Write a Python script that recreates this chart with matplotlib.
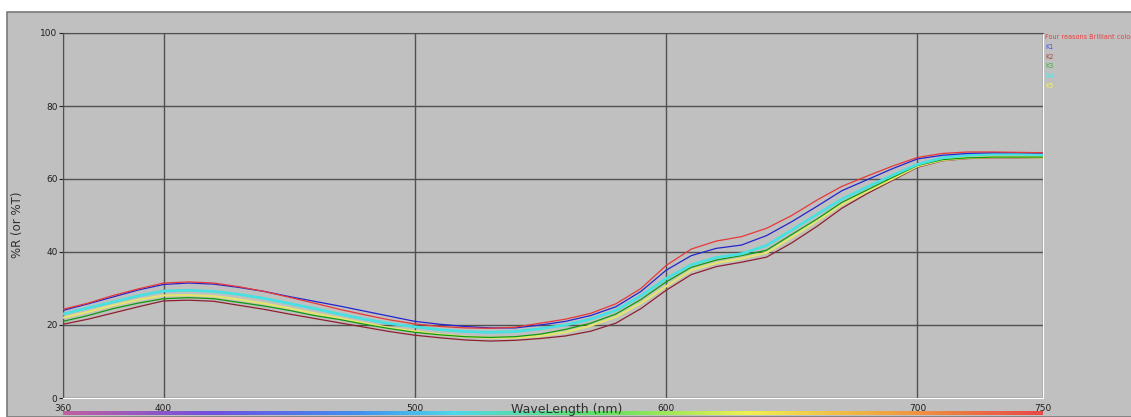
import matplotlib.pyplot as plt
import numpy as np
from matplotlib.patches import Rectangle
from matplotlib.colors import LinearSegmentedColormap

# Reflectance curves, 360-750 nm in 10 nm steps
wavelength = np.arange(360, 751, 10)

four_reasons = [24.3, 26.0, 28.1, 29.9, 31.5, 31.8, 31.5, 30.5, 29.2, 27.6,
                26.0, 24.3, 22.8, 21.4, 20.3, 19.6, 19.2, 19.1, 19.4, 20.5,
                21.6, 23.2, 25.8, 30.0, 36.3, 40.8, 43.0, 44.2, 46.5, 50.0,
                54.2, 58.0, 60.8, 63.5, 65.9, 67.0, 67.4, 67.4, 67.3, 67.2]
k1 = [24.0, 25.8, 27.7, 29.6, 31.1, 31.5, 31.2, 30.3, 29.2, 27.8,
      26.5, 25.2, 23.8, 22.4, 21.0, 20.2, 19.6, 19.2, 19.2, 20.0,
      21.0, 22.6, 25.0, 29.2, 35.0, 39.0, 41.0, 41.9, 44.5, 48.3,
      52.5, 56.8, 59.8, 62.8, 65.5, 66.5, 67.0, 67.2, 67.2, 67.1]
k2 = [20.2, 21.6, 23.3, 25.0, 26.6, 26.8, 26.5, 25.4, 24.3, 23.0,
      21.8, 20.6, 19.4, 18.2, 17.2, 16.5, 15.9, 15.6, 15.8, 16.3,
      17.0, 18.3, 20.5, 24.5, 29.5, 33.8, 36.0, 37.2, 38.6, 42.5,
      47.0, 52.0, 56.0, 59.6, 63.2, 65.0, 65.6, 65.8, 65.8, 65.8]
k3 = [21.0, 22.6, 24.5, 26.0, 27.2, 27.5, 27.2, 26.2, 25.2, 24.0,
      22.6, 21.5, 20.2, 19.0, 18.0, 17.3, 16.8, 16.6, 16.8, 17.5,
      18.8, 20.5, 23.0, 27.0, 31.8, 35.8, 37.8, 39.0, 40.5, 44.8,
      49.0, 53.6, 57.0, 60.4, 63.7, 65.3, 65.8, 66.0, 66.0, 66.0]
k4 = [23.0, 24.7, 26.3, 28.0, 29.3, 29.5, 29.2, 28.4, 27.3, 25.9,
      24.5, 23.0, 21.6, 20.4, 19.5, 18.7, 18.2, 18.0, 18.2, 19.0,
      20.0, 21.6, 24.0, 28.0, 32.7, 36.5, 38.5, 39.5, 41.8, 46.0,
      50.3, 54.5, 57.8, 61.0, 64.0, 65.8, 66.5, 66.8, 66.8, 66.7]
k5 = [22.0, 23.6, 25.4, 26.9, 28.1, 28.2, 27.9, 27.0, 25.9, 24.6,
      23.2, 21.9, 20.5, 19.2, 18.3, 17.4, 16.8, 16.5, 16.5, 17.0,
      18.0, 19.8, 22.2, 26.0, 30.6, 35.0, 37.0, 38.2, 39.8, 44.0,
      48.5, 53.0, 56.6, 60.0, 63.5, 65.2, 65.8, 66.0, 66.0, 65.9]

names = ['Four reasons Brilliant color', 'K1', 'K2', 'K3', 'K4', 'K5']
series = [four_reasons, k1, k2, k3, k4, k5]
line_colors = ['#e83838', '#2424d0', '#8c2030', '#109a10', '#48e0e0', '#e4e470']
text_colors = ['#f03c3c', '#5050f0', '#a04848', '#40b040', '#40f0f0', '#f0f060']
widths = [0.9, 0.9, 0.9, 0.9, 2.0, 1.6]

x_ticks = [360, 400, 500, 600, 700, 750]
y_ticks = [0, 20, 40, 60, 80, 100]

W, H = 1131, 417
fig = plt.figure(figsize=(W / 100, H / 100), dpi=100)
fig.patch.set_facecolor('white')

# grey panel behind everything
fig.patches.append(Rectangle((7 / W, 0), 1, 1 - 12 / H, transform=fig.transFigure,
                             facecolor='#c0c0c0', edgecolor='#7a7a7a', lw=1.2, zorder=-10))

ax = fig.add_axes([63 / W, 1 - 398 / H, 980 / W, 365 / H])
ax.set_facecolor('#c0c0c0')

# draw the lower lines first so the top pair sits above
for idx in [2, 5, 3, 4, 1, 0]:
    ax.plot(wavelength, series[idx], color=line_colors[idx], lw=widths[idx], zorder=3)

ax.set_xlim(360, 750)
ax.set_ylim(0, 100)
ax.set_xticks(x_ticks)
ax.set_yticks(y_ticks)
ax.tick_params(axis='both', labelsize=6.5, colors='#202020', length=3, width=0.8, pad=1)
ax.tick_params(axis='x', length=0, pad=4)
ax.grid(True, color='#505050', lw=1.0, zorder=1)

for side in ['left', 'top']:
    ax.spines[side].set_color('#505050')
for side in ['right', 'bottom']:
    ax.spines[side].set_color('white')

fig.text(18 / W, 1 - 225 / H, '%R (or %T)', rotation=90, ha='center', va='center',
         fontsize=8.5, color='#303030')

# spectrum strip under the axis
spec = LinearSegmentedColormap.from_list('spec', [
    (0.0, '#c060a0'), (0.15, '#7050e0'), (0.3, '#4090f0'), (0.4, '#50d8e8'),
    (0.55, '#60e060'), (0.7, '#f0f050'), (0.85, '#f0a040'), (1.0, '#e84848')])
bar = fig.add_axes([63 / W, 1 - 415 / H, 980 / W, 4.5 / H])
bar.imshow(np.linspace(0, 1, 256)[None, :], aspect='auto', cmap=spec)
bar.axis('off')

fig.text(567 / W, 1 - 409 / H, 'WaveLength (nm)', ha='center', va='center',
         fontsize=9, color='#303030', zorder=5)

# series names at the right edge
for i, (name, c) in enumerate(zip(names, text_colors)):
    fig.text(1045 / W, 1 - (37 + i * 9.8) / H, name, color=c, fontsize=4.7,
             ha='left', va='center')

fig.savefig('out.png', dpi=100, facecolor=fig.get_facecolor())
